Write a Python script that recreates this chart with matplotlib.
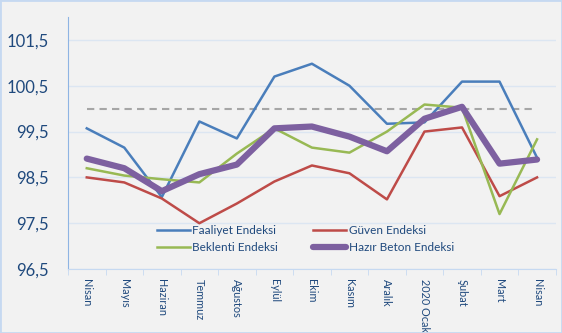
import matplotlib
matplotlib.use('Agg')
from matplotlib import pyplot as plt
from matplotlib.patches import Rectangle
from matplotlib.ticker import FixedLocator, FuncFormatter

plt.rcParams['font.family'] = ['Lato', 'DejaVu Sans']

months = ['Nisan', 'Mayıs', 'Haziran', 'Temmuz', 'Ağustos', 'Eylül', 'Ekim',
          'Kasım', 'Aralık', '2020 Ocak', 'Şubat', 'Mart', 'Nisan']
faaliyet = [99.57, 99.15, 98.07, 99.72, 99.35, 100.70, 100.98, 100.50, 99.67, 99.70, 100.59, 100.59, 98.93]
guven = [98.50, 98.39, 98.04, 97.50, 97.93, 98.41, 98.76, 98.59, 98.02, 99.50, 99.59, 98.09, 98.50]
beklenti = [98.70, 98.54, 98.46, 98.39, 99.02, 99.57, 99.15, 99.04, 99.50, 100.09, 100.02, 97.70, 99.33]
hazir_beton = [98.91, 98.70, 98.20, 98.57, 98.78, 99.57, 99.61, 99.39, 99.07, 99.78, 100.04, 98.80, 98.89]
threshold = [100.0] * len(months)
y_ticks = [96.5, 97.5, 98.5, 99.5, 100.5, 101.5]

bg = '#f2f2f2'
fig = plt.figure(figsize=(5.62, 3.33), dpi=100, facecolor=bg)
ax = fig.add_axes([0.121, 0.192, 0.868, 0.757])
ax.set_facecolor(bg)
fig.patches.append(Rectangle((0, 0), 1, 1, transform=fig.transFigure, fill=False,
                             edgecolor='#c6d9f1', linewidth=2))

x = list(range(len(months)))
ax.plot(x, threshold, color='#a6a6a6', linestyle=(0, (3.5, 2.5)), linewidth=1.5)
l1, = ax.plot(x, faaliyet, color='#4a7ebb', linewidth=1.8, label='Faaliyet Endeksi')
l2, = ax.plot(x, guven, color='#be4b48', linewidth=1.8, label='Güven Endeksi')
l3, = ax.plot(x, beklenti, color='#98b954', linewidth=1.8, label='Beklenti Endeksi')
l4, = ax.plot(x, hazir_beton, color='#7d60a0', linewidth=4.5, label='Hazır Beton Endeksi',
              solid_capstyle='round', solid_joinstyle='round')

ax.set_xlim(-0.5, len(months) - 0.5)
ax.set_ylim(96.5, 102)
ax.yaxis.set_major_locator(FixedLocator(y_ticks))
ax.yaxis.set_major_formatter(FuncFormatter(lambda v, p: f'{v:.1f}'.replace('.', ',')))
ax.grid(axis='y', color='#dce6f2', linewidth=1)
ax.set_axisbelow(True)

ax.set_xticks(x)
ax.set_xticklabels(months, rotation=-90, fontsize=7.8, color='#1f497d')
ax.set_xticks([i + 0.5 for i in range(-1, len(months))], minor=True)
ax.tick_params(axis='x', which='major', length=0, pad=7)
ax.tick_params(axis='x', which='minor', length=4, color='#c6d9f1')
ax.tick_params(axis='y', length=0, labelsize=12, labelcolor='#1f497d', pad=14)

for s in ['top', 'right']:
    ax.spines[s].set_visible(False)
ax.spines['left'].set_color('#8eb4e3')
ax.spines['bottom'].set_color('#c6d9f1')

# column-major fill: Faaliyet/Beklenti left, Güven/Hazır Beton right
leg = ax.legend([l1, l3, l2, l4], [l1.get_label(), l3.get_label(), l2.get_label(), l4.get_label()],
                ncol=2, loc='lower left', bbox_to_anchor=(0.16, 0.02), frameon=False,
                fontsize=8.5, labelcolor='#1f497d', handlelength=2.8, handletextpad=0.2,
                columnspacing=3.0, labelspacing=0.5)

fig.savefig('out.png', dpi=100, facecolor=bg)
